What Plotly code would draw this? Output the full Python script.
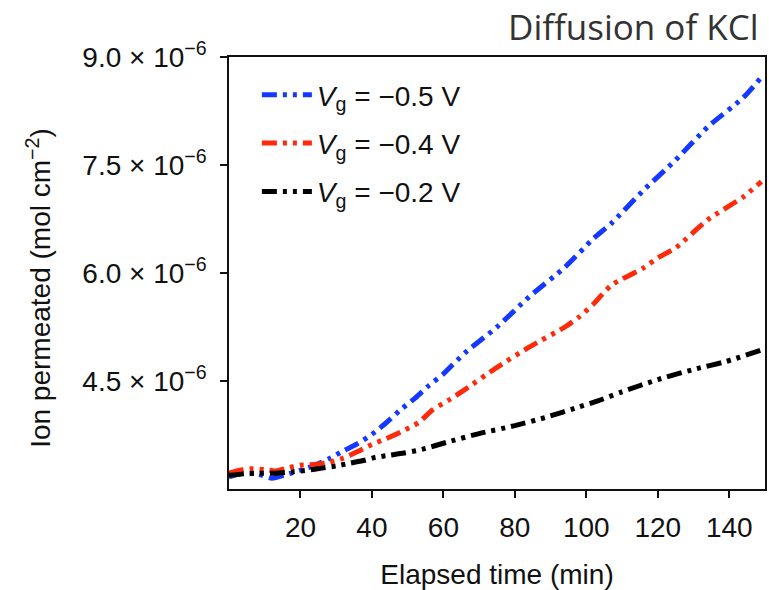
import plotly.graph_objects as go

# Permeated ion amount (units of 1e-6 mol cm^-2) versus elapsed time (min)
t_05 = [0, 4, 8, 12, 16, 20, 24, 28, 32, 36, 40, 44, 48, 52, 56, 60, 66, 75, 84, 94, 102, 107, 116, 125, 134, 144, 149]
v_05 = [3.17, 3.22, 3.21, 3.15, 3.20, 3.26, 3.33, 3.42, 3.53, 3.63, 3.76, 3.92, 4.10, 4.26, 4.44, 4.60, 4.89, 5.25, 5.67, 6.08, 6.48, 6.69, 7.15, 7.57, 8.03, 8.44, 8.72]

t_04 = [0, 3, 6, 10, 13, 17, 20, 24, 28, 32, 36, 40, 44, 48, 53, 57, 62, 66, 75, 84, 94, 98, 102, 107, 116, 120, 125, 134, 144, 149]
v_04 = [3.22, 3.26, 3.28, 3.27, 3.25, 3.30, 3.33, 3.34, 3.37, 3.43, 3.52, 3.62, 3.70, 3.79, 3.92, 4.10, 4.25, 4.38, 4.69, 4.97, 5.25, 5.39, 5.57, 5.83, 6.07, 6.21, 6.35, 6.74, 7.06, 7.27]

t_02 = [0, 4, 8, 13, 18, 22, 26, 30, 34, 38, 41, 45, 49, 54, 61, 70, 80, 89, 98, 103, 110, 120, 130, 139, 149]
v_02 = [3.19, 3.21, 3.22, 3.22, 3.24, 3.26, 3.29, 3.32, 3.36, 3.40, 3.44, 3.47, 3.50, 3.55, 3.65, 3.77, 3.88, 4.00, 4.14, 4.22, 4.35, 4.52, 4.66, 4.77, 4.93]

series_names = ["<i>V</i><sub>g</sub> = \u22120.5 V",
                "<i>V</i><sub>g</sub> = \u22120.4 V",
                "<i>V</i><sub>g</sub> = \u22120.2 V"]
series_colors = ["#1438ff", "#ff2a0a", "#000000"]

x_ticks = [20, 40, 60, 80, 100, 120, 140]
y_ticks = [4.5, 6.0, 7.5, 9.0]
y_ticktext = ["4.5 \u00d7 10<sup>\u22126</sup>", "6.0 \u00d7 10<sup>\u22126</sup>",
              "7.5 \u00d7 10<sup>\u22126</sup>", "9.0 \u00d7 10<sup>\u22126</sup>"]
SCALE = 1e-6

FONT = "Liberation Sans, Arial, sans-serif"
DASH = "15px,6px,4px,6px,4px,6px"

fig = go.Figure()
for i, (t, v) in enumerate([(t_05, v_05), (t_04, v_04), (t_02, v_02)]):
    fig.add_trace(go.Scatter(
        x=t, y=[val * SCALE for val in v], mode="lines",
        name=series_names[i], legendgroup=str(i),
        line=dict(color=series_colors[i], width=5, dash=DASH, shape="spline", smoothing=0.6),
    ))

axis_common = dict(
    showline=True, linecolor="#111", linewidth=1.5, mirror=True,
    ticks="outside", ticklen=7, tickwidth=1.5, tickcolor="#111",
    showgrid=False, zeroline=False,
    tickfont=dict(family=FONT, size=28, color="#111"),
)

fig.update_xaxes(range=[0, 150], tickvals=x_ticks, ticklabelstandoff=6,
                 title=dict(text="Elapsed time (min)", font=dict(family=FONT, size=28, color="#111"), standoff=22),
                 **axis_common)
fig.update_yaxes(range=[3.0 * SCALE, 9.0 * SCALE], tickvals=[v * SCALE for v in y_ticks],
                 ticktext=y_ticktext, ticklabelstandoff=8,
                 **axis_common)

# y-axis title placed as a rotated annotation so its centre can be set freely
fig.add_annotation(text="Ion permeated (mol cm<sup>\u22122</sup>)", xref="paper", yref="paper",
                   x=-0.355, y=0.465, xanchor="center", yanchor="middle", textangle=-90,
                   showarrow=False, font=dict(family=FONT, size=28, color="#111"))

fig.add_annotation(text="Diffusion of KCl", xref="paper", yref="paper", x=1.0, y=1.0,
                   xanchor="right", yanchor="bottom", yshift=5, xshift=-4, showarrow=False,
                   font=dict(family="Open Sans, Noto Sans, sans-serif", size=35, color="#333"))

fig.update_layout(
    width=769, height=590,
    margin=dict(l=229, r=2, t=57, b=101),
    paper_bgcolor="white", plot_bgcolor="white",
    showlegend=True,
    legend=dict(x=0.052, y=0.97, xanchor="left", yanchor="top",
                bgcolor="rgba(0,0,0,0)", font=dict(family=FONT, size=28, color="#111"),
                tracegroupgap=9, itemwidth=50),
)

fig.write_html("out.html")
